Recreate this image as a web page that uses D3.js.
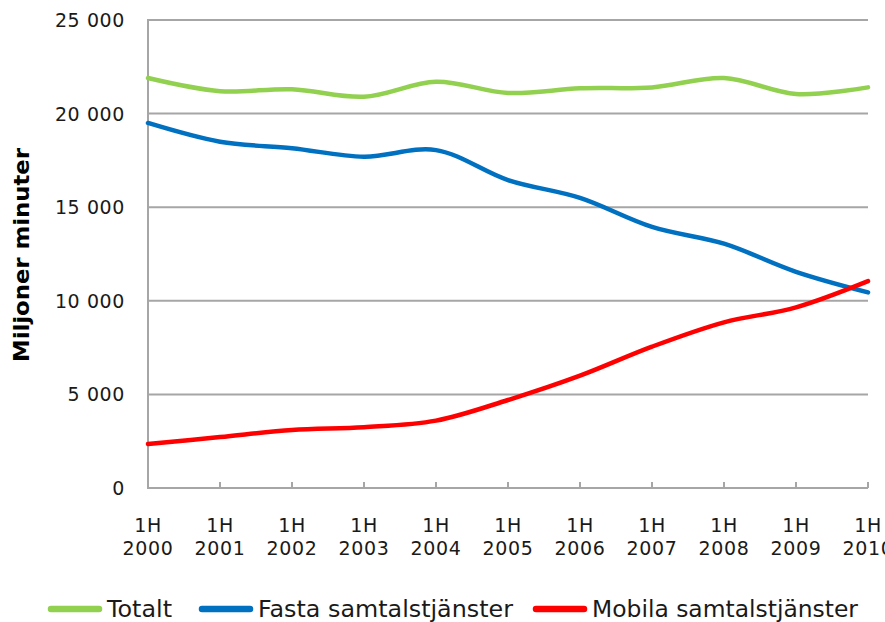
<!DOCTYPE html>
<html>
<head>
<meta charset="utf-8">
<script src="https://cdn.jsdelivr.net/npm/d3@7"></script>
<style>
  body { margin: 0; background: #fff; }
  svg { display: block; }
</style>
</head>
<body>
<svg id="canvas" width="885" height="622"></svg>
<script>
//Categories along the x axis (two-line labels)
var periods = ["2000", "2001", "2002", "2003", "2004", "2005", "2006", "2007", "2008", "2009", "2010"];
var periodPrefix = "1H";

//Series values, miljoner minuter
var totalt = [21900, 21200, 21300, 20900, 21700, 21100, 21350, 21400, 21900, 21050, 21400];
var fasta  = [19500, 18500, 18150, 17700, 18050, 16450, 15500, 13950, 13050, 11550, 10450];
var mobila = [2350, 2720, 3100, 3250, 3600, 4700, 6000, 7550, 8850, 9650, 11050];

var yTicks = [0, 5000, 10000, 15000, 20000, 25000];

var seriesNames  = ["Totalt", "Fasta samtalstjänster", "Mobila samtalstjänster"];
var seriesColors = ["#92D050", "#0070C0", "#FF0000"];

var svg = d3.select("#canvas");

var plotLeft = 148, plotRight = 868, plotTop = 20, plotBottom = 488;

var x = d3.scalePoint().domain(periods).range([plotLeft, plotRight]);
var y = d3.scaleLinear().domain([0, 25000]).range([plotBottom, plotTop]);

var fmt = function(v) { return d3.format(",")(v).replace(",", " "); };

//Gridlines
svg.append("g")
  .selectAll("line")
  .data(yTicks.filter(function(d) { return d > 0; }))
  .enter().append("line")
  .attr("x1", plotLeft).attr("x2", plotRight)
  .attr("y1", function(d) { return y(d); })
  .attr("y2", function(d) { return y(d); })
  .attr("stroke", "#A6A6A6")
  .attr("stroke-width", 2);

//Y axis labels
svg.append("g")
  .selectAll("text")
  .data(yTicks)
  .enter().append("text")
  .attr("x", 125)
  .attr("y", function(d) { return y(d) + 7; })
  .attr("text-anchor", "end")
  .attr("font-family", "DejaVu Sans, Verdana, sans-serif")
  .attr("font-size", 19)
  .attr("letter-spacing", 0.6)
  .attr("fill", "#1a1a1a")
  .text(fmt);

//Axis lines
svg.append("line")
  .attr("x1", plotLeft).attr("x2", plotLeft)
  .attr("y1", plotTop - 1).attr("y2", plotBottom + 1)
  .attr("stroke", "#A6A6A6").attr("stroke-width", 2);
svg.append("line")
  .attr("x1", plotLeft - 1).attr("x2", plotRight)
  .attr("y1", plotBottom).attr("y2", plotBottom)
  .attr("stroke", "#A6A6A6").attr("stroke-width", 2);

//X ticks (pointing up into the plot)
svg.append("g")
  .selectAll("line")
  .data(periods.slice(1))
  .enter().append("line")
  .attr("x1", function(d) { return x(d); })
  .attr("x2", function(d) { return x(d); })
  .attr("y1", plotBottom - 6).attr("y2", plotBottom)
  .attr("stroke", "#A6A6A6").attr("stroke-width", 2);

//X labels
var xl = svg.append("g")
  .selectAll("text")
  .data(periods)
  .enter().append("text")
  .attr("text-anchor", "middle")
  .attr("font-family", "DejaVu Sans, Verdana, sans-serif")
  .attr("font-size", 19)
  .attr("letter-spacing", 0.6)
  .attr("fill", "#1a1a1a");
xl.append("tspan")
  .attr("x", function(d) { return x(d); })
  .attr("y", 532)
  .text(periodPrefix);
xl.append("tspan")
  .attr("x", function(d) { return x(d); })
  .attr("y", 555)
  .text(function(d) { return d; });

//Y axis title
svg.append("text")
  .attr("transform", "translate(29,255) rotate(-90)")
  .attr("text-anchor", "middle")
  .attr("font-family", "DejaVu Sans, Verdana, sans-serif")
  .attr("font-weight", "bold")
  .attr("font-size", 22)
  .attr("fill", "#000")
  .attr("textLength", 214)
  .attr("lengthAdjust", "spacingAndGlyphs")
  .text("Miljoner minuter");

//Lines
var line = d3.line()
  .x(function(d, i) { return x(periods[i]); })
  .y(function(d) { return y(d); })
  .curve(d3.curveCatmullRom.alpha(0.5));

var allSeries = [totalt, fasta, mobila];

svg.append("g")
  .selectAll("path")
  .data(allSeries)
  .enter().append("path")
  .attr("d", line)
  .attr("fill", "none")
  .attr("stroke", function(d, i) { return seriesColors[i]; })
  .attr("stroke-width", 4.5)
  .attr("stroke-linecap", "round");

//Legend
var legendX = [51, 202, 536];
var legendW = [65, 255, 266];
var lg = svg.append("g")
  .selectAll("g")
  .data(seriesNames)
  .enter().append("g")
  .attr("transform", function(d, i) { return "translate(" + legendX[i] + ",609)"; });
lg.append("line")
  .attr("x1", 0).attr("x2", 48)
  .attr("stroke", function(d, i) { return seriesColors[i]; })
  .attr("stroke-width", 6.5)
  .attr("stroke-linecap", "round");
lg.append("text")
  .attr("x", 56)
  .attr("y", 8)
  .attr("font-family", "DejaVu Sans, Verdana, sans-serif")
  .attr("font-size", 23)
  .attr("fill", "#1a1a1a")
  .attr("textLength", function(d, i) { return legendW[i]; })
  .attr("lengthAdjust", "spacingAndGlyphs")
  .text(function(d) { return d; });
</script>
</body>
</html>
